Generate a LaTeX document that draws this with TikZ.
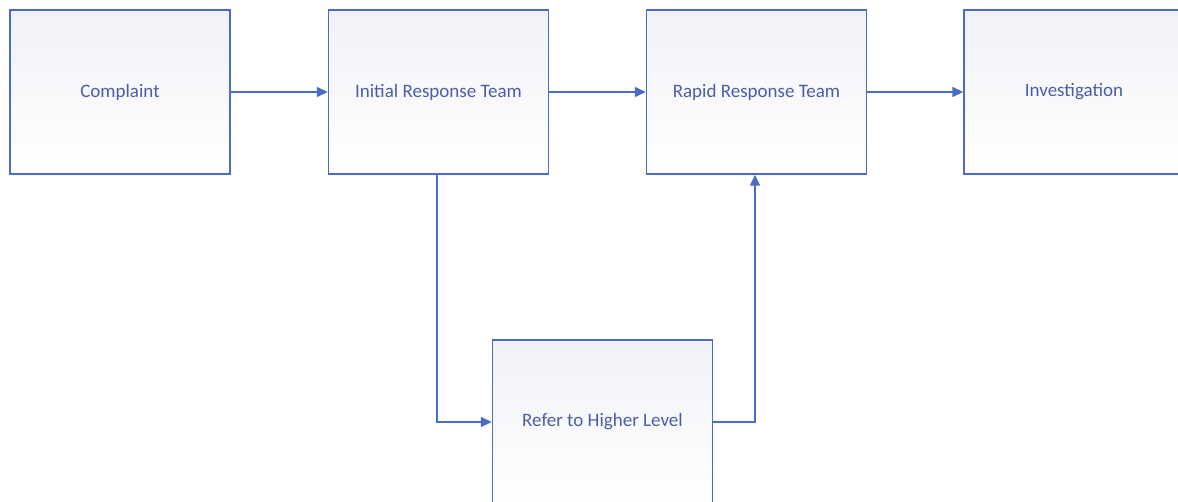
\documentclass[tikz,border=0pt]{standalone}
\usepackage{fontspec}
\setmainfont{Carlito}
\usetikzlibrary{arrows.meta}
\definecolor{edgeblue}{HTML}{4A6BC6}
\definecolor{txtblue}{HTML}{4D5CA8}
\definecolor{boxtop}{HTML}{F1F2F7}
\tikzset{
  proc/.style={draw=edgeblue, line width=1.4pt, top color=boxtop, bottom color=white, minimum width=220pt, minimum height=164pt, inner sep=0pt, text=txtblue, font=\fontsize{19}{22}\selectfont, anchor=center},
  conn/.style={draw=edgeblue, line width=1.4pt, -{Triangle[length=11pt,width=10pt]}}
}
\begin{document}
\begin{tikzpicture}[x=1pt,y=1pt]
\useasboundingbox (0,0) rectangle (1178,-502);
\clip (0,0) rectangle (1178,-502);
\node[proc] (c) at (120,-92) {Complaint};
\node[proc] (i) at (438.5,-92) {Initial Response Team};
\node[proc] (r) at (756.5,-92) {Rapid Response Team};
\node[proc] (v) at (1074,-92) {Investigation};
\node[proc] (h) at (602.5,-422) {Refer to Higher Level};
\draw[conn] (c.east) -- (i.west);
\draw[conn] (i.east) -- (r.west);
\draw[conn] (r.east) -- (v.west);
\draw[conn] (i.south -| 437,0) |- (h.west);
\draw[conn] (h.east) -| (r.south -| 755,0);
\end{tikzpicture}
\end{document}
